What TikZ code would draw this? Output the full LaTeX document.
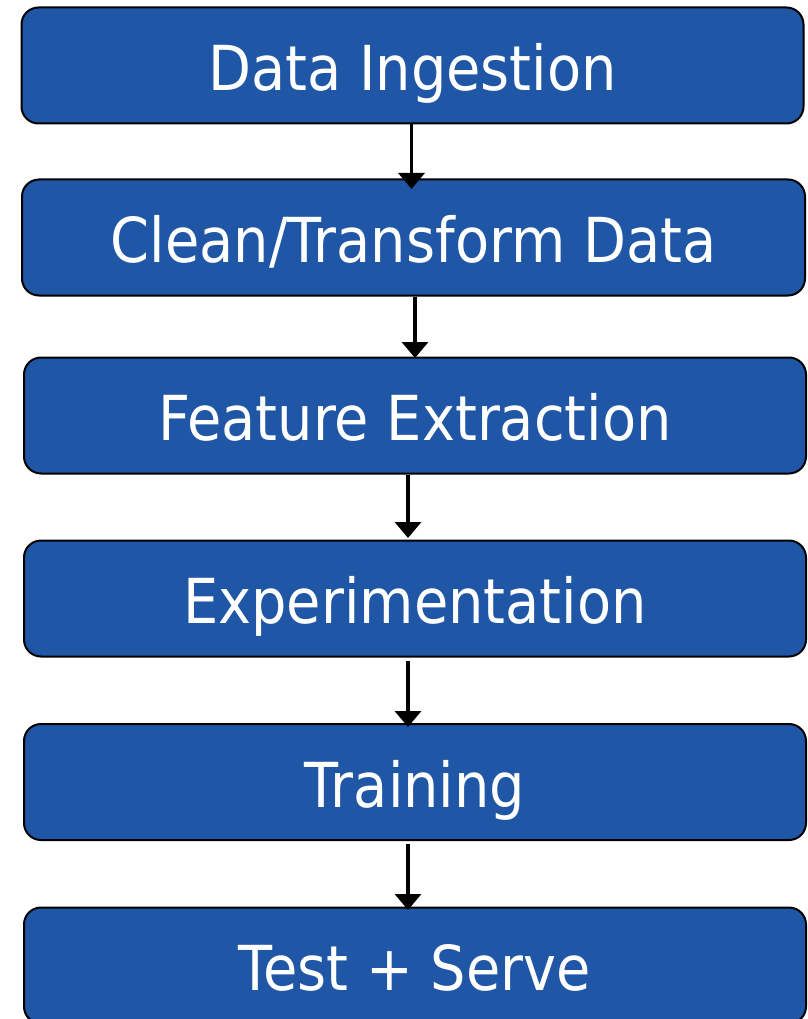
\documentclass[tikz,border=0pt]{standalone}
\usepackage{fontspec}
\newfontfamily\boxfont[FakeStretch=0.9]{DejaVu Sans}
\usetikzlibrary{arrows.meta}
\definecolor{boxblue}{RGB}{31,86,165}
\tikzset{
  stagebox/.style={draw=black, line width=2pt, fill=boxblue, rounded corners=17pt,
    minimum width=782pt, minimum height=116pt, inner sep=0pt,
    text=white, font=\boxfont\fontsize{62}{62}\selectfont,
    text height=50pt, text depth=0pt},
  flowarrow/.style={draw=black, line width=3.5pt, -{Triangle[width=26pt,length=16pt]}}
}
\begin{document}
\begin{tikzpicture}[x=1pt,y=-1pt]
\useasboundingbox (0,0) rectangle (807,1019);
\node[stagebox] (b1) at (412.5,65.5) {Data Ingestion};
\node[stagebox, minimum width=783pt] (b2) at (413.5,237.5) {Clean/Transform Data};
\node[stagebox] (b3) at (415,415.5) {Feature Extraction};
\node[stagebox] (b4) at (415,598.5) {Experimentation};
\node[stagebox] (b5) at (415,782) {Training};
\node[stagebox] (b6) at (415,965.5) {Test + Serve};
\coordinate (t1) at (411.5,189);
\coordinate (t2) at (415,358);
\coordinate (t3) at (408,538);
\coordinate (t4) at (408,727);
\coordinate (t5) at (408,910);
\draw[flowarrow] (b1.south -| t1) -- (t1);
\draw[flowarrow] (b2.south -| t2) -- (t2);
\draw[flowarrow] (b3.south -| t3) -- (t3);
\draw[flowarrow] ([yshift=-3pt]b4.south -| t4) -- (t4);
\draw[flowarrow] ([yshift=-3pt]b5.south -| t5) -- (t5);
\end{tikzpicture}
\end{document}
